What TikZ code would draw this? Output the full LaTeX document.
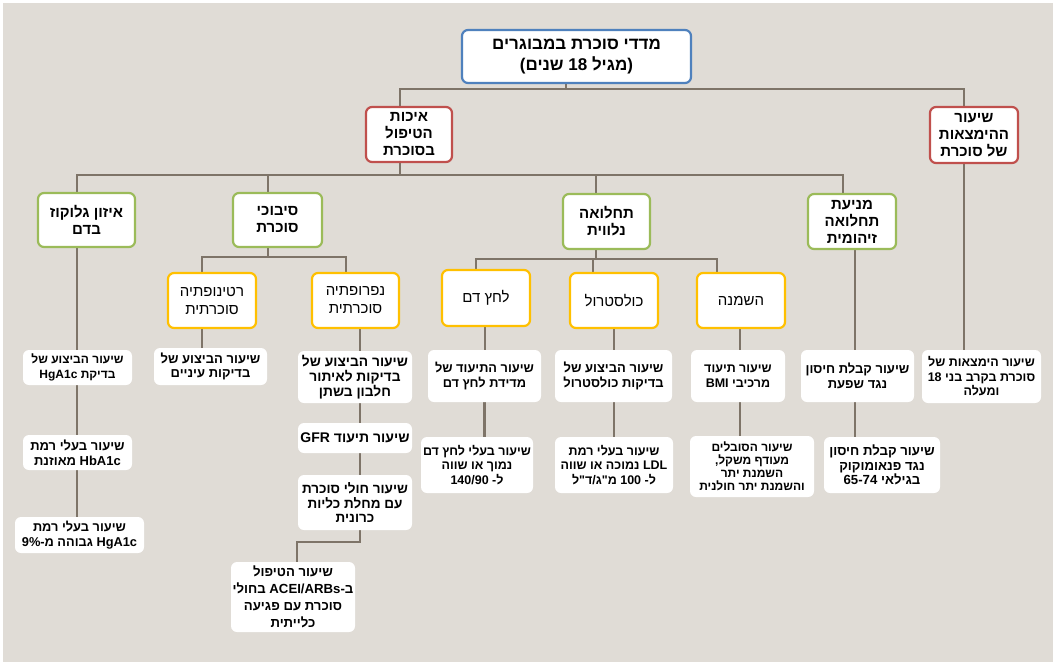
\documentclass[tikz,border=0pt]{standalone}
\usepackage{fontspec}
\setmainfont{Liberation Sans}
\newfontfamily\heb[Script=Hebrew]{Liberation Sans}
\TeXXeTstate=1
\newcommand\hb[1]{\beginR #1\endR}
\newcommand\lt[1]{\beginL #1\endL{}}
\definecolor{bgC}{HTML}{E0DCD6}
\definecolor{lineC}{HTML}{7E7468}
\definecolor{blueC}{HTML}{4F81BD}
\definecolor{redC}{HTML}{C0504D}
\definecolor{greenC}{HTML}{9BBB59}
\definecolor{yelC}{HTML}{FFC000}
\pgfdeclarelayer{back}
\pgfsetlayers{back,main}
\tikzset{
  basebox/.style={rounded corners=6pt, fill=white, align=center, inner sep=1pt, text=black},
  topbox/.style={basebox, draw=blueC, line width=2.2pt, font=\heb\bfseries\fontsize{17}{21}\selectfont},
  redbox/.style={basebox, draw=redC, line width=2.2pt, font=\heb\bfseries\fontsize{15}{17}\selectfont},
  grnbox/.style={basebox, draw=greenC, line width=2.2pt, font=\heb\bfseries\fontsize{15}{17}\selectfont},
  yelbox/.style={basebox, draw=yelC, line width=2.2pt, font=\heb\fontsize{15}{18}\selectfont},
  whtbox/.style={basebox, font=\heb\bfseries\fontsize{12.5}{14.5}\selectfont},
  fs/.style={font=\heb\bfseries\fontsize{#1}{14.8}\selectfont},
  conn/.style={draw=lineC, line width=2.4pt}
}
\begin{document}
\begin{tikzpicture}[x=1pt,y=-1pt]
\useasboundingbox (0,0) rectangle (1056,665);
% level 1
\node[topbox, minimum width=229, minimum height=53] (top) at (576.5,56.5) {\hb{מדדי סוכרת במבוגרים}\\\hb{(מגיל 18 שנים)}};
% level 2
\node[redbox, minimum width=86, minimum height=55] (ik) at (409,134.5) {\hb{איכות}\\\hb{הטיפול}\\\hb{בסוכרת}};
\node[redbox, minimum width=88, minimum height=56] (hm) at (974,135) {\hb{שיעור}\\\hb{ההימצאות}\\\hb{של סוכרת}};
% level 3 (green)
\node[grnbox, minimum width=97, minimum height=54] (gl) at (86.5,220) {\hb{איזון גלוקוז}\\\hb{בדם}};
\node[grnbox, minimum width=89, minimum height=54] (sb) at (277.5,220) {\hb{סיבוכי}\\\hb{סוכרת}};
\node[grnbox, minimum width=87, minimum height=55] (tn) at (606.5,221.5) {\hb{תחלואה}\\\hb{נלווית}};
\node[grnbox, minimum width=88, minimum height=55] (mn) at (852,221.5) {\hb{מניעת}\\\hb{תחלואה}\\\hb{זיהומית}};
% level 4 (yellow)
\node[yelbox, minimum width=88, minimum height=55] (rt) at (212,300.5) {\hb{רטינופתיה}\\\hb{סוכרתית}};
\node[yelbox, minimum width=87, minimum height=55] (nf) at (355.5,300.5) {\hb{נפרופתיה}\\\hb{סוכרתית}};
\node[yelbox, minimum width=88, minimum height=56] (ld) at (486,298) {\hb{לחץ דם}};
\node[yelbox, minimum width=88, minimum height=55] (ch) at (614,300.5) {\hb{כולסטרול}};
\node[yelbox, minimum width=88, minimum height=55] (ob) at (741,300.5) {\hb{השמנה}};
% indicators (white)
\node[whtbox, fs=12, minimum width=109, minimum height=35] (g1) at (77.5,367.5) {\hb{שיעור הביצוע של}\\\hb{בדיקת \lt{HgA1c}}};
\node[whtbox, fs=13, minimum width=109, minimum height=35] (g2) at (77.5,452.5) {\hb{שיעור בעלי רמת}\\\hb{\lt{HbA1c} מאוזנת}};
\node[whtbox, fs=12.8, minimum width=129, minimum height=36] (g3) at (79.5,535) {\hb{שיעור בעלי רמת}\\\hb{\lt{HgA1c} גבוהה מ-9\%}};
\node[whtbox, fs=13, minimum width=113, minimum height=37] (r1) at (210.5,366.5) {\hb{שיעור הביצוע של}\\\hb{בדיקות עיניים}};
\node[whtbox, fs=13.8, minimum width=114, minimum height=52] (n1) at (355,377) {\hb{שיעור הביצוע של}\\\hb{בדיקות לאיתור}\\\hb{חלבון בשתן}};
\node[whtbox, fs=14, minimum width=114, minimum height=30] (n2) at (355,438) {\hb{שיעור תיעוד \lt{GFR}}};
\node[whtbox, fs=13.5, minimum width=114, minimum height=55] (n3) at (355,502.5) {\hb{שיעור חולי סוכרת}\\\hb{עם מחלת כליות}\\\hb{כרונית}};
\node[whtbox, font=\heb\bfseries\fontsize{13.2}{16.8}\selectfont, minimum width=124, minimum height=70] (n4) at (293,597) {\hb{שיעור הטיפול}\\\hb{ב-ACEI/ARBs בחולי}\\\hb{סוכרת עם פגיעה}\\\hb{כלייתית}};
\node[whtbox, fs=12.8, minimum width=113, minimum height=52] (l1) at (484.5,376) {\hb{שיעור התיעוד של}\\\hb{מדידת לחץ דם}};
\node[whtbox, minimum width=112, minimum height=56] (l2) at (477,465) {\hb{שיעור בעלי לחץ דם}\\\hb{נמוך או שווה}\\\hb{ל- \lt{140/90}}};
\node[whtbox, fs=13, minimum width=117, minimum height=52] (c1) at (613.5,376) {\hb{שיעור הביצוע של}\\\hb{בדיקות כולסטרול}};
\node[whtbox, minimum width=118, minimum height=56] (c2) at (614,465) {\hb{שיעור בעלי רמת}\\\hb{\lt{LDL} נמוכה או שווה}\\\hb{ל- \lt{100} מ"ג/ד"ל}};
\node[whtbox, minimum width=94, minimum height=52] (o1) at (738,376) {\hb{שיעור תיעוד}\\\hb{מרכיבי \lt{BMI}}};
\node[whtbox, minimum width=124, minimum height=61, font=\heb\bfseries\fontsize{12}{13}\selectfont] (o2) at (752,466.5) {\hb{שיעור הסובלים}\\\hb{מעודף משקל,}\\\hb{השמנת יתר}\\\hb{והשמנת יתר חולנית}};
\node[whtbox, fs=13, minimum width=113, minimum height=52] (m1) at (857.5,376) {\hb{שיעור קבלת חיסון}\\\hb{נגד שפעת}};
\node[whtbox, fs=13.2, minimum width=116, minimum height=56] (m2) at (882,465) {\hb{שיעור קבלת חיסון}\\\hb{נגד פנאומוקוק}\\\hb{בגילאי \lt{65-74}}};
\node[whtbox, minimum width=119, minimum height=53] (h1) at (981.5,376.5) {\hb{שיעור הימצאות של}\\\hb{סוכרת בקרב בני 18}\\\hb{ומעלה}};
% bus coordinates
\coordinate (busT) at (566,89);
\coordinate (busL) at (400,175);
\coordinate (busS) at (268,257);
\coordinate (busN) at (596,259);
\coordinate (busK) at (360,542);
% stem points on child tops
\coordinate (ikT) at ([xshift=-9]ik.north);
\coordinate (hmT) at ([xshift=-10]hm.north);
\coordinate (glT) at ([xshift=-9.5]gl.north);
\coordinate (sbT) at ([xshift=-9.5]sb.north);
\coordinate (tnT) at ([xshift=-10.5]tn.north);
\coordinate (mnT) at ([xshift=-9]mn.north);
\coordinate (rtT) at ([xshift=-10]rt.north);
\coordinate (nfT) at ([xshift=-9.5]nf.north);
\coordinate (ldT) at ([xshift=-10]ld.north);
\coordinate (chT) at ([xshift=-21]ch.north);
\coordinate (obT) at ([xshift=-24]ob.north);
\coordinate (g1T) at ([xshift=-0.5]g1.north);
\coordinate (g2T) at ([xshift=-0.5]g2.north);
\coordinate (g3T) at ([xshift=-2.5]g3.north);
\coordinate (r1T) at ([xshift=-8.5]r1.north);
\coordinate (n1T) at ([xshift=5]n1.north);
\coordinate (n2T) at ([xshift=5]n2.north);
\coordinate (n3T) at ([xshift=5]n3.north);
\coordinate (n4T) at ([xshift=4]n4.north);
\coordinate (l1T) at ([xshift=0.5]l1.north);
\coordinate (l2T) at ([xshift=7.5]l2.north);
\coordinate (c1T) at ([xshift=0.5]c1.north);
\coordinate (c2T) at (c2.north);
\coordinate (o1T) at ([xshift=2]o1.north);
\coordinate (o2T) at ([xshift=-12]o2.north);
\coordinate (m1T) at ([xshift=-2.5]m1.north);
\coordinate (m2T) at ([xshift=-27]m2.north);
\coordinate (h1T) at ([xshift=-17.5]h1.north);
\begin{pgfonlayer}{back}
\fill[white] (0,0) rectangle (1056,665);
\fill[bgC] (3,3) rectangle (1053,662);
% top bus
\draw[conn] (top.south -| busT) -- (busT);
\draw[conn] (ikT) |- (busT) -| (hmT);
% second bus
\draw[conn] (ik.south -| busL) -- (busL);
\draw[conn] (glT) |- (busL) -| (mnT);
\draw[conn] (sbT) |- (busL);
\draw[conn] (tnT) |- (busL);
% complications bus
\draw[conn] (sb.south -| busS) -- (busS);
\draw[conn] (rtT) |- (busS) -| (nfT);
% comorbidity bus
\draw[conn] (tn.south -| busN) -- (busN);
\draw[conn] (ldT) |- (busN) -| (obT);
\draw[conn] (chT) |- (busN);
% indicator stems
\draw[conn] (g1T) -- (g1T |- gl.south);
\draw[conn] (g2T) -- (g2T |- g1.south);
\draw[conn] (g3T) -- (g3T |- g2.south);
\draw[conn] (r1T) -- (r1T |- rt.south);
\draw[conn] (n1T) -- (n1T |- nf.south);
\draw[conn] (n2T) -- (n2T |- n1.south);
\draw[conn] (n3T) -- (n3T |- n2.south);
\draw[conn] (n3.south -| busK) -- (busK) -| (n4T);
\draw[conn] (l1T) -- (l1T |- ld.south);
\draw[conn] (l2T) -- (l2T |- l1.south);
\draw[conn] (c1T) -- (c1T |- ch.south);
\draw[conn] (c2T) -- (c2T |- c1.south);
\draw[conn] (o1T) -- (o1T |- ob.south);
\draw[conn] (o2T) -- (o2T |- o1.south);
\draw[conn] (m1T) -- (m1T |- mn.south);
\draw[conn] (m2T) -- (m2T |- m1.south);
\draw[conn] (h1T) -- (h1T |- hm.south);
\end{pgfonlayer}
\end{tikzpicture}
\end{document}
